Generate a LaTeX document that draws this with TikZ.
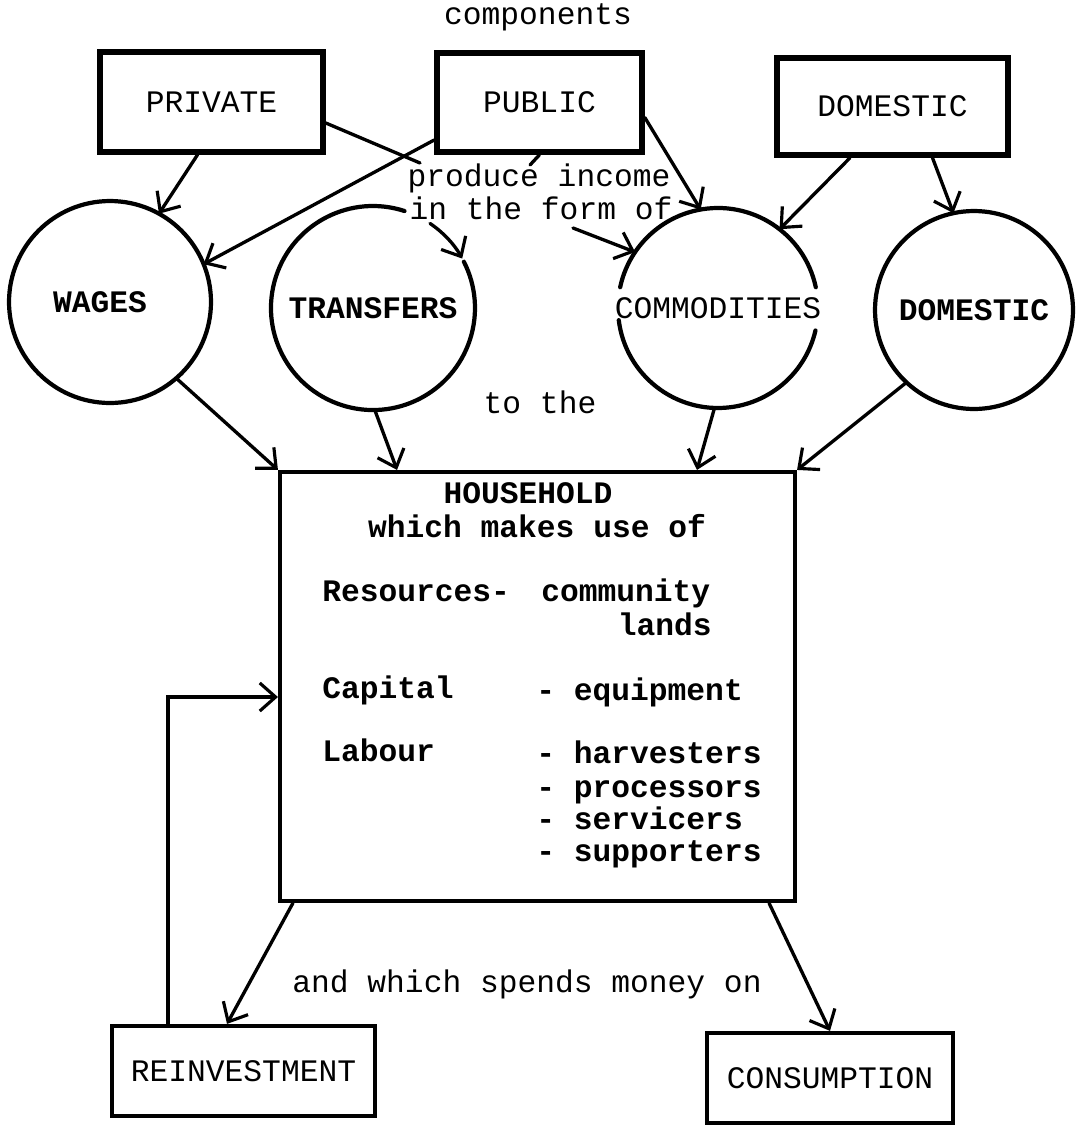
\documentclass[tikz,border=0pt]{standalone}
\usepackage{fontspec}
\setmonofont{Liberation Mono}
\usetikzlibrary{arrows.meta}
\newcommand\typew{\fontsize{17.8}{20}\selectfont\ttfamily}

\begin{document}
\begin{tikzpicture}[x=0.02cm,y=0.02cm,
    every node/.style={font=\typew},
    boxa/.style={draw,line width=3.2pt,inner sep=0pt},
    boxb/.style={draw,line width=2.4pt,inner sep=0pt},
    ring/.style={circle,draw,line width=2.4pt,inner sep=0pt,outer sep=0pt},
    hhtext/.style={inner sep=0pt,font=\typew\bfseries},
    arr/.style={-{Straight Barb[length=9pt,width=16pt,line width=1.8pt]},line width=1.9pt,line cap=round}]
    \useasboundingbox (0,0) rectangle (1088,-1126);
    \node (components) at (538,-17) {components};
    \node[boxa,minimum width=4.46cm,minimum height=2cm] (private) at (211.5,-102) {PRIVATE};
    \node[boxa,minimum width=4.1cm,minimum height=1.98cm] (public) at (539.5,-102.5) {PUBLIC};
    \node[boxa,minimum width=4.62cm,minimum height=1.94cm] (domestic) at (892.5,-106.5) {DOMESTIC};
    \node[inner sep=0pt] (produce) at (539,-178) {produce income};
    \node[inner sep=0pt] (form) at (541,-208) {in the form of};
    \coordinate (prodot) at (420,-163);
    \coordinate (pubdot) at (530,-165);
    \coordinate (ofdot) at (573,-228);
    \node[ring,minimum size=4.04cm,label={[xshift=-0.2cm]center:\bfseries WAGES}] (wages) at (110,-302) {};
    \node[ring,draw=none,minimum size=4.08cm,label={center:\bfseries TRANSFERS}] (trans) at (373,-308) {};
    \node[ring,draw=none,minimum size=4cm,label={center:COMMODITIES}] (comm) at (718,-308) {};
    \node[ring,minimum size=3.96cm,label={center:\bfseries DOMESTIC}] (domcirc) at (974,-310) {};
    \draw[line width=2.4pt,line cap=round] (trans.72) arc[start angle=72,end angle=387,radius=102];
    \draw[line width=2.4pt,line cap=round] (comm.12) arc[start angle=12,end angle=168,radius=100];
    \draw[line width=2.4pt,line cap=round] (comm.187) arc[start angle=187,end angle=347,radius=100];
    \node (tothe) at (540,-402) {to the};
    \node[boxb,minimum width=10.3cm,minimum height=8.58cm] (hh) at (537.5,-686.5) {};
    \node[hhtext,anchor=mid] (hhname) at (528,-500) {HOUSEHOLD};
    \node[hhtext,anchor=mid] (hhuse) at (537,-534) {which makes use of};
    \node[hhtext,anchor=mid west] (res) at (322,-598) {Resources-};
    \node[hhtext,anchor=mid west] (comty) at (541,-598) {community};
    \node[hhtext,anchor=mid east] (lands) at (712,-632) {lands};
    \node[hhtext,anchor=mid west] (cap) at (322,-695) {Capital};
    \node[hhtext,anchor=mid west] (equip) at (536,-697) {- equipment};
    \node[hhtext,anchor=mid west] (lab) at (322,-758) {Labour};
    \node[hhtext,anchor=mid west] (harv) at (536,-760) {- harvesters};
    \node[hhtext,anchor=mid west] (proc) at (536,-794) {- processors};
    \node[hhtext,anchor=mid west] (serv) at (536,-826) {- servicers};
    \node[hhtext,anchor=mid west] (supp) at (536,-858) {- supporters};
    \node (spends) at (527,-984) {and which spends money on};
    \node[boxb,minimum width=5.26cm,minimum height=1.8cm] (reinv) at (243.5,-1071) {REINVESTMENT};
    \node[boxb,minimum width=4.92cm,minimum height=1.8cm] (consum) at (830,-1078) {CONSUMPTION};
    \draw[arr] ([xshift=-0.28cm]private.south) -- (wages.61);
    \draw[line width=1.9pt,line cap=round] ([yshift=-0.42cm]private.east) -- (prodot);
    \draw[arr] ([yshift=-0.75cm]public.west) -- (wages.22);
    \draw[line width=1.9pt,line cap=round] (public.south) -- (pubdot);
    \draw[arr] ([yshift=-0.3cm]public.east) -- (comm.100);
    \draw[arr] ([xshift=-0.85cm]domestic.south) -- (comm.52);
    \draw[arr] ([xshift=0.8cm]domestic.south) -- (domcirc.102);
    \draw[arr] (trans.56) arc[start angle=56,end angle=29,radius=102];
    \draw[arr] (ofdot) -- (comm.146);
    \draw[arr] (wages.-49) -- (hh.north west);
    \draw[arr] (trans.-89) -- ([xshift=-2.81cm]hh.north);
    \draw[arr] (comm.-92) -- ([xshift=3.19cm]hh.north);
    \draw[arr] (domcirc.-133) -- (hh.north east);
    \draw[arr] ([xshift=0.3cm]hh.south west) -- ([xshift=-0.33cm]reinv.north);
    \draw[arr] ([xshift=-0.56cm]hh.south east) -- (consum.north);
    \draw[arr] ([xshift=1.16cm]reinv.north west) |- ([yshift=-0.21cm]hh.west);
\end{tikzpicture}
\end{document}
